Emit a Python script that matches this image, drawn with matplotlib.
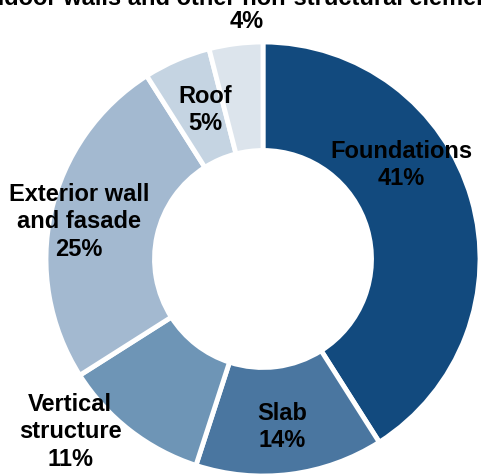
import matplotlib.pyplot as plt

# share of embodied impact per building part
labels = ["Foundations", "Slab", "Vertical\nstructure", "Exterior wall\nand fasade",
          "Roof", "Indoor walls and other non-structural elements"]
shares = [41, 14, 11, 25, 5, 4]
colors = ["#124a7e", "#4a76a0", "#6e95b6", "#a3b9d0", "#c5d4e2", "#dce4ec"]

# label anchor points (axes data units, pie radius = 1) and line spacing
label_pos = [(0.636, 0.433), (0.088, -0.774), (-0.889, -0.797), (-0.848, 0.171),
             (-0.267, 0.687), (-0.074, 1.147)]
label_spacing = [1.26, 1.26, 1.26, 1.26, 1.26, 1.04]

plt.rcParams['font.family'] = ['Liberation Sans', 'DejaVu Sans']

fig = plt.figure(figsize=(4.83, 4.76), dpi=100)
ax = fig.add_axes([46 / 483, 0, 434 / 483, 434 / 476])

ax.pie(shares, colors=colors, startangle=90, counterclock=False,
       wedgeprops=dict(width=0.5, edgecolor="white", linewidth=3.5))
ax.set_xlim(-1, 1)
ax.set_ylim(-1, 1)
ax.set_aspect("auto")

for lab, val, (x, y), ls in zip(labels, shares, label_pos, label_spacing):
    ax.text(x, y, f"{lab}\n{val}%", ha="center", va="center", fontsize=17,
            fontweight="bold", linespacing=ls, clip_on=False)

fig.savefig("out.png", dpi=100)
